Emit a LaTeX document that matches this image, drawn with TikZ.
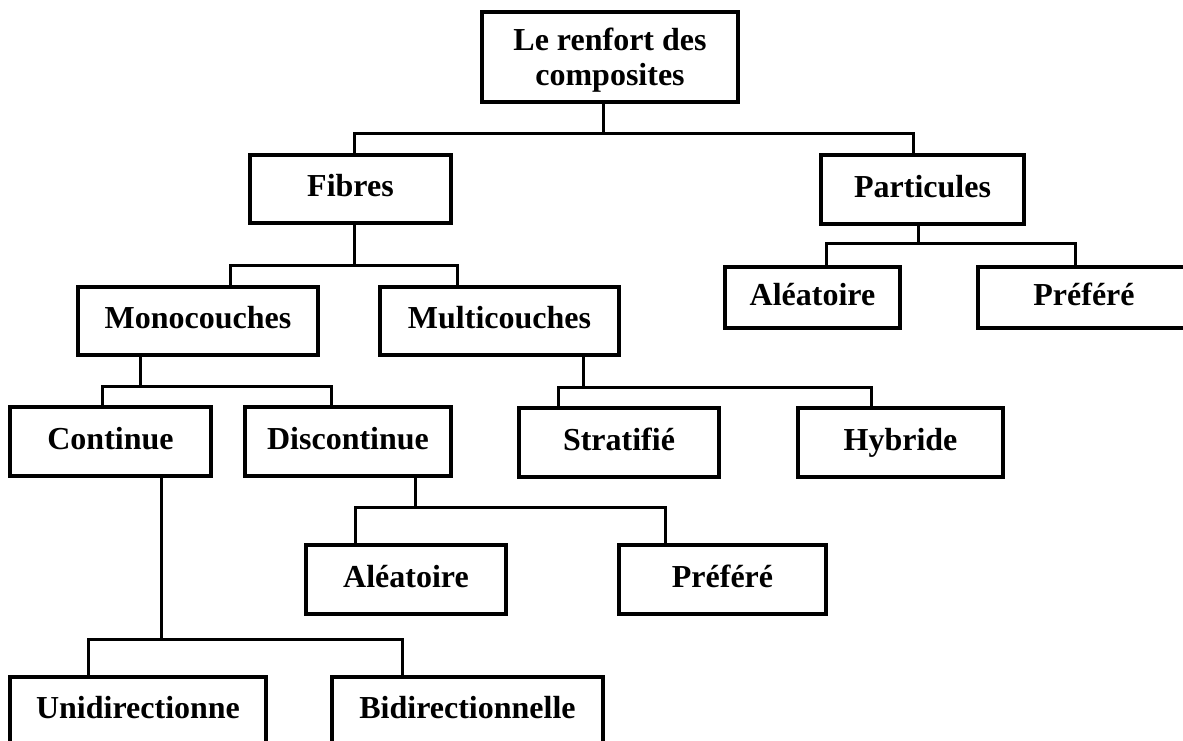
\documentclass[tikz,border=0pt]{standalone}
\usepackage{fontspec}
\setmainfont{Liberation Serif}
\begin{document}
\begin{tikzpicture}[x=1pt,y=-1pt,
  box/.style={draw, line width=3.6pt, inner sep=0pt, align=center,
    text height=22pt, text depth=7pt,
    font=\fontsize{32}{35}\selectfont\bfseries},
  titlebox/.style={box, text height=, text depth=-2pt},
  link/.style={line width=3pt}]
\clip (0,0) rectangle (1183,740);
\fill[white] (0,0) rectangle (1183,740);

% boxes
\node[titlebox, minimum width=256pt, minimum height=90pt] (top) at (610,57) {Le renfort des\\composites};
\node[box, minimum width=201pt, minimum height=68pt] (fibres) at (350.5,189) {Fibres};
\node[box, minimum width=203pt, minimum height=69pt] (partic) at (922.5,189.5) {Particules};
\node[box, minimum width=240pt, minimum height=68pt] (mono) at (198,321) {Monocouches};
\node[box, minimum width=239pt, minimum height=68pt] (multi) at (499.5,321) {Multicouches};
\node[box, minimum width=175pt, minimum height=61pt] (aleaP) at (812.5,297.5) {Aléatoire};
\node[box, minimum width=212pt, minimum height=61pt] (prefP) at (1084,297.5) {Préféré};
\node[box, minimum width=201pt, minimum height=69pt] (cont) at (110.5,441.5) {Continue};
\node[box, minimum width=206pt, minimum height=69pt] (disc) at (348,441.5) {Discontinue};
\node[box, minimum width=200pt, minimum height=69pt] (strat) at (619,442.5) {Stratifié};
\node[box, minimum width=205pt, minimum height=69pt] (hyb) at (900.5,442.5) {Hybride};
\node[box, minimum width=200pt, minimum height=69pt] (aleaD) at (406,579.5) {Aléatoire};
\node[box, minimum width=207pt, minimum height=69pt] (prefD) at (722.5,579.5) {Préféré};
\node[box, minimum width=256pt, minimum height=68pt] (uni) at (138,711) {Unidirectionne};
\node[box, minimum width=271pt, minimum height=68pt] (bid) at (467.5,711) {Bidirectionnelle};

% bus junctions
\coordinate (b0) at (603,133); \coordinate (b0l) at (354,133); \coordinate (b0r) at (913,133);
\coordinate (b1) at (354,265); \coordinate (b1l) at (230,265); \coordinate (b1r) at (457,265);
\coordinate (b2) at (918,243); \coordinate (b2l) at (826,243); \coordinate (b2r) at (1075,243);
\coordinate (b3) at (140,386); \coordinate (b3l) at (102,386); \coordinate (b3r) at (331,386);
\coordinate (b4) at (583,387); \coordinate (b4l) at (558,387); \coordinate (b4r) at (871,387);
\coordinate (b5) at (415,507); \coordinate (b5l) at (355,507); \coordinate (b5r) at (665,507);
\coordinate (b6) at (161,639); \coordinate (b6l) at (88,639);  \coordinate (b6r) at (402,639);

% connectors
\draw[link] (top.south -| b0) -- (b0);
\draw[link] (fibres.north -| b0l) -- (b0l) -- (b0r) -- (partic.north -| b0r);

\draw[link] (fibres.south -| b1) -- (b1);
\draw[link] (mono.north -| b1l) -- (b1l) -- (b1r) -- (multi.north -| b1r);

\draw[link] (partic.south -| b2) -- (b2);
\draw[link] (aleaP.north -| b2l) -- (b2l) -- (b2r) -- (prefP.north -| b2r);

\draw[link] (mono.south -| b3) -- (b3);
\draw[link] (cont.north -| b3l) -- (b3l) -- (b3r) -- (disc.north -| b3r);

\draw[link] (multi.south -| b4) -- (b4);
\draw[link] (strat.north -| b4l) -- (b4l) -- (b4r) -- (hyb.north -| b4r);

\draw[link] (disc.south -| b5) -- (b5);
\draw[link] (aleaD.north -| b5l) -- (b5l) -- (b5r) -- (prefD.north -| b5r);

\draw[link] (cont.south -| b6) -- (b6);
\draw[link] (uni.north -| b6l) -- (b6l) -- (b6r) -- (bid.north -| b6r);
\end{tikzpicture}
\end{document}
